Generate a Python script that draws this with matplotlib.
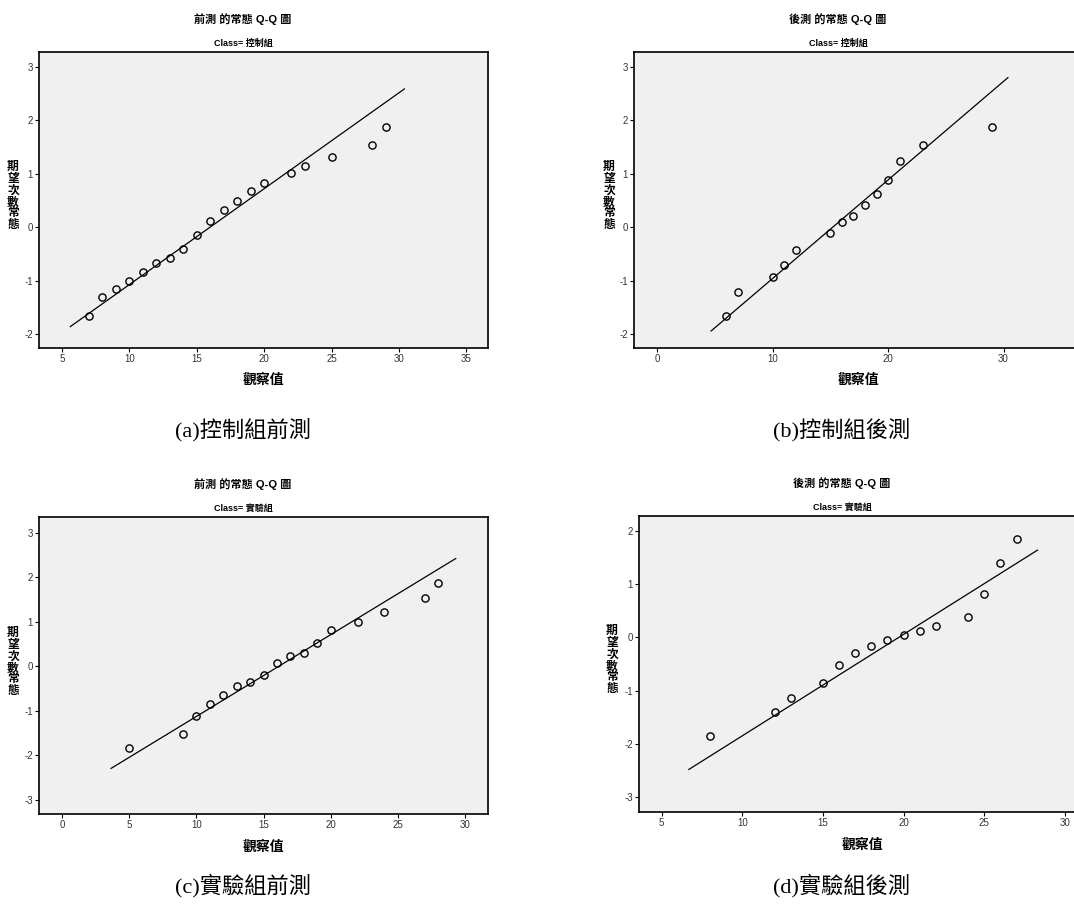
import matplotlib
matplotlib.use("Agg")
import matplotlib.pyplot as plt

plt.rcParams["axes.unicode_minus"] = False

W, H = 1074, 908

a_x = [7, 8, 9, 10, 11, 12, 13, 14, 15, 16, 17, 18, 19, 20, 22, 23, 25, 28, 29]
a_y = [-1.67, -1.31, -1.15, -1.01, -0.83, -0.67, -0.57, -0.40, -0.15, 0.12,
       0.32, 0.49, 0.68, 0.83, 1.01, 1.15, 1.32, 1.54, 1.87]
b_x = [6, 7, 10, 11, 12, 15, 16, 17, 18, 19, 20, 21, 23, 29]
b_y = [-1.66, -1.22, -0.94, -0.71, -0.43, -0.11, 0.09, 0.21, 0.41, 0.63,
       0.89, 1.24, 1.54, 1.87]
c_x = [5, 9, 10, 11, 12, 13, 14, 15, 16, 17, 18, 19, 20, 22, 24, 27, 28]
c_y = [-1.84, -1.52, -1.13, -0.86, -0.64, -0.45, -0.36, -0.19, 0.06, 0.22,
       0.30, 0.52, 0.82, 1.00, 1.22, 1.53, 1.86]
d_x = [8, 12, 13, 15, 16, 17, 18, 19, 20, 21, 22, 24, 25, 26, 27]
d_y = [-1.85, -1.40, -1.13, -0.86, -0.51, -0.29, -0.16, -0.04, 0.04, 0.13,
       0.21, 0.38, 0.81, 1.40, 1.85]

# normal reference line: mean, sd and the x span it is drawn over
line_mean = [15.98, 15.20, 16.15, 19.69]
line_sd = [5.57, 5.42, 5.44, 5.25]
line_span = [(5.62, 30.4), (4.68, 30.38), (3.66, 29.3), (6.69, 28.3)]

titles = ["前測 的常態 Q-Q 圖", "後測 的常態 Q-Q 圖", "前測 的常態 Q-Q 圖", "後測 的常態 Q-Q 圖"]
subtitles = ["Class= 控制組", "Class= 控制組", "Class= 實驗組", "Class= 實驗組"]
captions = ["(a)控制組前測", "(b)控制組後測", "(c)實驗組前測", "(d)實驗組後測"]
xticks = [[5, 10, 15, 20, 25, 30, 35], [0, 10, 20, 30], [0, 5, 10, 15, 20, 25, 30],
          [5, 10, 15, 20, 25, 30]]
yticks = [[-2, -1, 0, 1, 2, 3], [-2, -1, 0, 1, 2, 3], [-3, -2, -1, 0, 1, 2, 3],
          [-3, -2, -1, 0, 1, 2]]
xlims = [(3.3, 36.6), (-2.0, 36.1), (-1.7, 31.7), (3.6, 30.56)]
ylims = [(-2.26, 3.28), (-2.26, 3.28), (-3.32, 3.35), (-3.275, 2.28)]
xlabel = "觀察值"
ylabel = "期望次數常態"

sans = ["Liberation Sans", "Noto Sans CJK TC"]
serif = ["Liberation Serif", "Noto Sans CJK TC"]

# pixel boxes (left, top, right, bottom) and text anchor positions
boxes = [(39, 52, 488, 348), (634, 52, 1074, 348), (39, 517, 488, 814), (639, 516, 1074, 812)]
title_pos = [(243, 19, 43), (838, 19, 43), (243, 484, 508), (842, 483, 507)]
xlab_pos = [(264, 380), (859, 380), (264, 847), (863, 845)]
ylab_pos = [(13, 196), (609, 196), (13, 662), (612, 660)]
cap_pos = [(243, 430), (842, 430), (243, 886), (842, 886)]
ychar_step = 11.5

xs = [a_x, b_x, c_x, d_x]
ys = [a_y, b_y, c_y, d_y]

fig = plt.figure(figsize=(W / 100, H / 100), dpi=100)
fig.patch.set_facecolor("white")

for i in range(4):
    l, t, r, b = boxes[i]
    ax = fig.add_axes([l / W, 1 - b / H, (r - l) / W, (b - t) / H])
    ax.set_facecolor("#f0f0f0")
    ax.set_xlim(*xlims[i])
    ax.set_ylim(*ylims[i])
    ax.set_xticks(xticks[i])
    ax.set_yticks(yticks[i])
    ax.tick_params(direction="out", length=3, width=0.8, labelsize=7,
                   labelcolor="#333333", pad=1.5)
    for lab in ax.get_xticklabels() + ax.get_yticklabels():
        lab.set_family(sans)
    for s in ax.spines.values():
        s.set_linewidth(1.2)
    if r >= W:
        ax.spines["right"].set_visible(False)

    x0, x1 = line_span[i]
    ax.plot([x0, x1], [(x0 - line_mean[i]) / line_sd[i], (x1 - line_mean[i]) / line_sd[i]],
            color="black", lw=0.9)
    ax.plot(xs[i], ys[i], "o", mfc="none", mec="black", mew=1.0, ms=5.2)

    cx, ty, sy = title_pos[i]
    fig.text(cx / W, 1 - ty / H, titles[i], ha="center", va="center",
             fontsize=8, fontweight="bold", family=sans)
    fig.text(cx / W, 1 - sy / H, subtitles[i], ha="center", va="center",
             fontsize=6.5, fontweight="bold", family=sans)
    fig.text(xlab_pos[i][0] / W, 1 - xlab_pos[i][1] / H, xlabel, ha="center", va="center",
             fontsize=10, fontweight="bold", family=sans)
    # stacked upright y label, one character per row
    lx, ly = ylab_pos[i]
    n = len(ylabel)
    for k, ch in enumerate(ylabel):
        yy = ly + (k - (n - 1) / 2) * ychar_step
        fig.text(lx / W, 1 - yy / H, ch, ha="center", va="center",
                 fontsize=8.5, fontweight="bold", family=sans)
    fig.text(cap_pos[i][0] / W, 1 - cap_pos[i][1] / H, captions[i], ha="center", va="center",
             fontsize=16, family=serif)

fig.savefig("out.png", dpi=100)
